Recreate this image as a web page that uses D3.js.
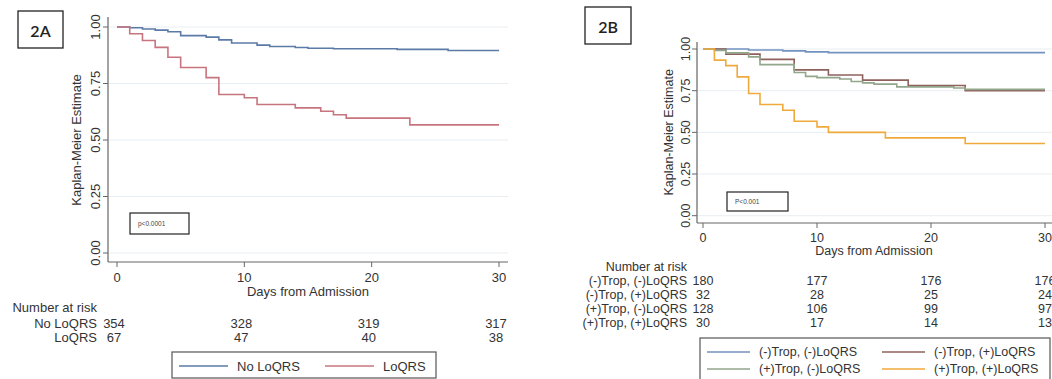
<!DOCTYPE html>
<html>
<head>
<meta charset="utf-8">
<script src="https://cdn.jsdelivr.net/npm/d3@7"></script>
<style>
  body { margin: 0; background: #fff; }
  svg { font-family: "Liberation Sans", Arial, sans-serif; }
</style>
</head>
<body>
<svg id="chart" width="1052" height="379"></svg>
<script>
// ---- data ----
var xTicks = [0, 10, 20, 30];
var yTicks = [0, 0.25, 0.5, 0.75, 1];

// panel 2A : [day, survival]
var noLoqrs = [[0,1],[1,0.997],[2,0.991],[3,0.986],[4,0.979],[5,0.962],[7,0.955],[8,0.943],[9,0.929],[11,0.920],[12,0.914],[14,0.909],[15,0.906],[17,0.904],[22,0.901],[26,0.896],[30,0.896]];
var loqrs = [[0,1],[1,0.970],[2,0.940],[3,0.910],[4,0.866],[5,0.821],[7,0.776],[8,0.701],[10,0.687],[11,0.657],[14,0.642],[16,0.627],[17,0.612],[18,0.597],[23,0.567],[30,0.567]];
var riskNoLoqrs = [354, 328, 319, 317];
var riskLoqrs = [67, 47, 40, 38];

// panel 2B
var tropNegLoNeg = [[0,1],[4,0.994],[7,0.989],[9,0.983],[11,0.978],[30,0.978]];
var tropNegLoPos = [[0,1],[2,0.969],[5,0.938],[8,0.875],[11,0.844],[14,0.813],[18,0.781],[23,0.750],[30,0.750]];
var tropPosLoNeg = [[0,1],[1,0.992],[2,0.977],[4,0.953],[5,0.906],[8,0.859],[9,0.836],[10,0.828],[12,0.820],[13,0.805],[14,0.797],[15,0.789],[17,0.773],[22,0.766],[23,0.758],[30,0.758]];
var tropPosLoPos = [[0,1],[1,0.933],[2,0.900],[3,0.833],[4,0.733],[5,0.667],[7,0.633],[8,0.567],[10,0.533],[11,0.500],[16,0.467],[23,0.433],[30,0.433]];
var riskNegNeg = [180, 177, 176, 176];
var riskNegPos = [32, 28, 25, 24];
var riskPosNeg = [128, 106, 99, 97];
var riskPosPos = [30, 17, 14, 13];

var svg = d3.select('#chart');
svg.append('rect').attr('width', 1052).attr('height', 379).attr('fill', '#fff');

function drawPanel(p) {
    var g = svg.append('g');
    var x = d3.scaleLinear().domain([0, 30]).range(p.xr);
    var y = d3.scaleLinear().domain([0, 1]).range(p.yr);

    // grid
    g.selectAll('.grid').data(yTicks).enter().append('line')
        .attr('x1', p.axX + 1).attr('x2', p.gridEnd)
        .attr('y1', function(d) { return y(d); }).attr('y2', function(d) { return y(d); })
        .attr('stroke', '#e9eef2').attr('stroke-width', 1);

    // axes
    g.append('line').attr('x1', p.axX).attr('x2', p.axX).attr('y1', p.axTop).attr('y2', p.axY)
        .attr('stroke', '#666').attr('stroke-width', 1.2);
    g.append('line').attr('x1', p.axX).attr('x2', p.axRight).attr('y1', p.axY).attr('y2', p.axY)
        .attr('stroke', '#666').attr('stroke-width', 1.2);

    g.selectAll('.yt').data(yTicks).enter().append('line')
        .attr('x1', p.axX - 5).attr('x2', p.axX)
        .attr('y1', function(d) { return y(d); }).attr('y2', function(d) { return y(d); })
        .attr('stroke', '#666');
    g.selectAll('.ytl').data(yTicks).enter().append('text')
        .attr('transform', function(d) { return 'translate(' + p.yLabX + ',' + y(d) + ') rotate(-90)'; })
        .attr('text-anchor', 'middle').attr('dominant-baseline', 'central')
        .attr('font-size', p.fs).attr('fill', '#333')
        .text(function(d) { return d3.format('.2f')(d); });
    g.append('text')
        .attr('transform', 'translate(' + p.yTitleX + ',' + y(0.5) + ') rotate(-90)')
        .attr('text-anchor', 'middle').attr('dominant-baseline', 'central')
        .attr('font-size', p.fs).attr('fill', '#333').text('Kaplan-Meier Estimate');

    g.selectAll('.xt').data(xTicks).enter().append('line')
        .attr('x1', function(d) { return x(d); }).attr('x2', function(d) { return x(d); })
        .attr('y1', p.axY).attr('y2', p.axY + 5).attr('stroke', '#666');
    g.selectAll('.xtl').data(xTicks).enter().append('text')
        .attr('x', function(d) { return x(d); }).attr('y', p.xLabY)
        .attr('text-anchor', 'middle').attr('dominant-baseline', 'central')
        .attr('font-size', p.fs).attr('fill', '#333').text(function(d) { return d; });
    g.append('text').attr('x', x(15)).attr('y', p.xTitleY)
        .attr('text-anchor', 'middle').attr('dominant-baseline', 'central')
        .attr('font-size', p.fs).attr('fill', '#333').text('Days from Admission');

    // curves
    var line = d3.line()
        .x(function(d) { return x(d[0]); })
        .y(function(d) { return y(d[1]); })
        .curve(d3.curveStepAfter);
    p.series.forEach(function(s) {
        g.append('path').datum(s.values)
            .attr('d', line).attr('fill', 'none')
            .attr('stroke', s.color).attr('stroke-width', 1.6);
    });

    // panel label
    g.append('rect').attr('x', p.tag[0]).attr('y', p.tag[1]).attr('width', p.tag[2]).attr('height', p.tag[3])
        .attr('fill', 'none').attr('stroke', '#222').attr('stroke-width', 1.3);
    g.append('text').attr('x', p.tag[0] + p.tag[2] / 2).attr('y', p.tag[1] + p.tag[3] / 2 + 1)
        .attr('text-anchor', 'middle').attr('dominant-baseline', 'central')
        .attr('font-family', 'Lato, "Open Sans", sans-serif').attr('font-weight', 600)
        .attr('font-size', 16).attr('fill', '#222').text(p.tagText);

    // p-value
    g.append('rect').attr('x', p.pbox[0]).attr('y', p.pbox[1]).attr('width', p.pbox[2]).attr('height', p.pbox[3])
        .attr('fill', '#fff').attr('stroke', '#222').attr('stroke-width', 1.2);
    g.append('text').attr('x', p.pbox[0] + 8).attr('y', p.pbox[1] + p.pbox[3] / 2)
        .attr('dominant-baseline', 'central').attr('font-size', 6.5).attr('fill', '#444').text(p.pText);

    // number at risk
    g.append('text').attr('x', p.riskLabX).attr('y', p.riskTitleY)
        .attr('text-anchor', 'end').attr('dominant-baseline', 'central')
        .attr('font-size', p.fs).attr('fill', '#333').text('Number at risk');
    p.series.forEach(function(s, i) {
        var ry = p.riskY[i];
        g.append('text').attr('x', p.riskLabX).attr('y', ry)
            .attr('text-anchor', 'end').attr('dominant-baseline', 'central')
            .attr('font-size', p.fs).attr('fill', '#333').text(s.name);
        g.selectAll(null).data(s.risk).enter().append('text')
            .attr('x', function(d, j) { return x(xTicks[j]) + p.riskShift; }).attr('y', ry)
            .attr('text-anchor', 'middle').attr('dominant-baseline', 'central')
            .attr('font-size', p.fs).attr('fill', '#333').text(function(d) { return d; });
    });

    // legend
    var lb = p.legend;
    g.append('rect').attr('x', lb.x).attr('y', lb.y).attr('width', lb.w).attr('height', lb.h)
        .attr('fill', '#fff').attr('stroke', '#555').attr('stroke-width', 1.2);
    p.series.forEach(function(s, i) {
        var col = i % lb.cols, row = Math.floor(i / lb.cols);
        var lx = lb.x + lb.pad + col * lb.colW, ly = lb.y + lb.rowY0 + row * lb.rowH;
        g.append('line').attr('x1', lx).attr('x2', lx + lb.lineW).attr('y1', ly).attr('y2', ly)
            .attr('stroke', s.color).attr('stroke-width', 1.6);
        g.append('text').attr('x', lx + lb.lineW + 9).attr('y', ly)
            .attr('dominant-baseline', 'central').attr('font-size', p.fs).attr('fill', '#333').text(s.name);
    });
}

drawPanel({
    xr: [117, 499], yr: [253, 27],
    axX: 108, axY: 262, axTop: 17, axRight: 508, gridEnd: 508,
    yLabX: 95, yTitleX: 76, xLabY: 277, xTitleY: 291, fs: 13,
    tag: [18, 11, 45, 37], tagText: '2A',
    pbox: [130, 213, 59, 21], pText: 'p<0.0001',
    riskLabX: 97, riskTitleY: 307, riskY: [323, 337], riskShift: -3,
    legend: { x: 172, y: 352, w: 264, h: 26, cols: 2, pad: 7, colW: 146, rowY0: 14, rowH: 17, lineW: 49 },
    series: [
        { name: 'No LoQRS', values: noLoqrs, risk: riskNoLoqrs, color: '#5b7ba6' },
        { name: 'LoQRS', values: loqrs, risk: riskLoqrs, color: '#c8747e' }
    ]
});

drawPanel({
    xr: [703, 1045], yr: [215.7, 49],
    axX: 697, axY: 223, axTop: 42, axRight: 1052, gridEnd: 1052,
    yLabX: 686, yTitleX: 669, xLabY: 238, xTitleY: 251, fs: 12.5,
    tag: [585, 7, 46, 37], tagText: '2B',
    pbox: [727, 192, 61, 19], pText: 'P<0.001',
    riskLabX: 687, riskTitleY: 267, riskY: [281, 295, 309, 323], riskShift: 0,
    legend: { x: 700, y: 338, w: 350, h: 45, cols: 2, pad: 7, colW: 175, rowY0: 14, rowH: 17, lineW: 43 },
    series: [
        { name: '(-)Trop, (-)LoQRS', values: tropNegLoNeg, risk: riskNegNeg, color: '#7392c0' },
        { name: '(-)Trop, (+)LoQRS', values: tropNegLoPos, risk: riskNegPos, color: '#8f615d' },
        { name: '(+)Trop, (-)LoQRS', values: tropPosLoNeg, risk: riskPosNeg, color: '#92a68c' },
        { name: '(+)Trop, (+)LoQRS', values: tropPosLoPos, risk: riskPosPos, color: '#f0aa3c' }
    ]
});
</script>
</body>
</html>
